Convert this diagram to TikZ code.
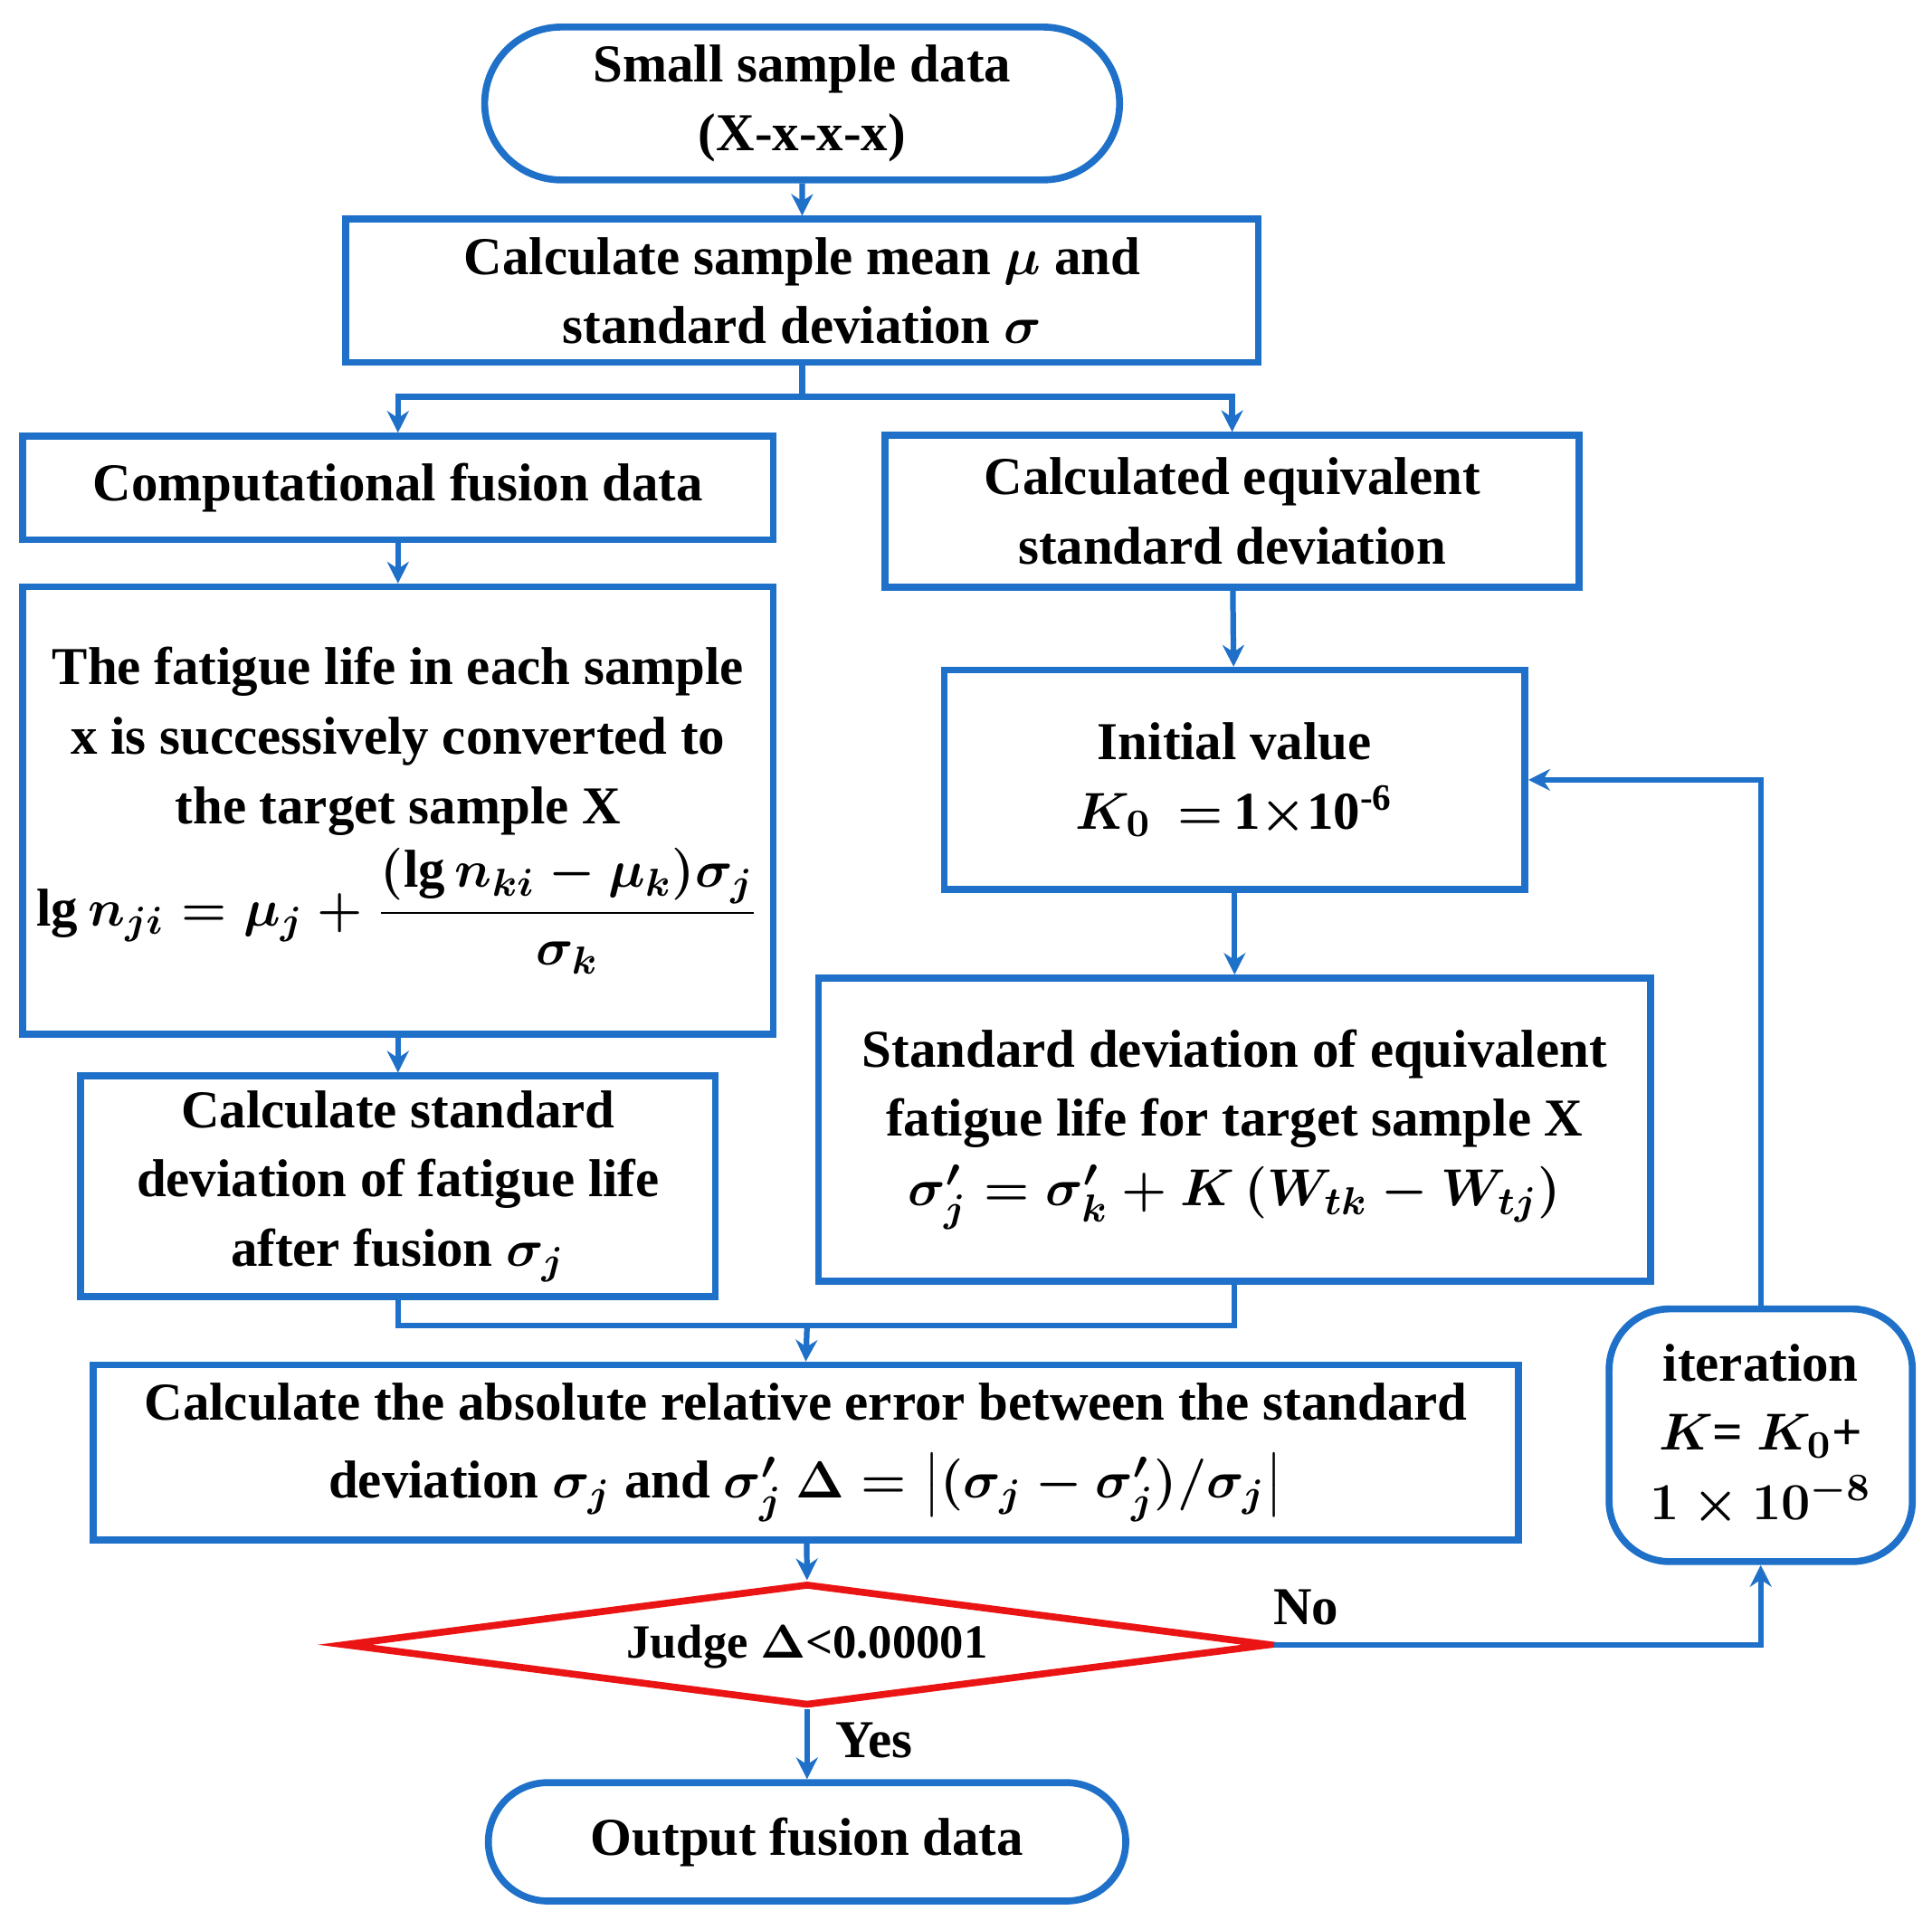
\documentclass[tikz,border=0pt]{standalone}
\usepackage{amsmath}
\usepackage{fontspec}
\setmainfont{Liberation Serif}
\usetikzlibrary{shapes.misc,shapes.geometric,arrows.meta}
\definecolor{bl}{RGB}{30,112,200}
\definecolor{rd}{RGB}{235,20,20}
\begin{document}
\begin{tikzpicture}[x=0.01cm,y=-0.01cm,
  every node/.style={font=\fontsize{12.3}{16}\selectfont\bfseries\boldmath,align=center,inner sep=0pt},
  box/.style={draw=bl,line width=1.6pt,rectangle},
  term/.style={draw=bl,line width=1.6pt,rounded rectangle},
  ar/.style={draw=bl,line width=1.3pt,-{Stealth[length=5pt,width=5pt]}},
  ln/.style={draw=bl,line width=1.3pt}]
\useasboundingbox (0,0) rectangle (1568,1558);
\node[term,minimum width=5.15cm,minimum height=1.24cm] (s) at (651,84) {Small sample data\\(X-x-x-x)};
\node[box,minimum width=7.4cm,minimum height=1.16cm] (b1) at (651,236) {Calculate sample mean $\mu$ and\\standard deviation $\sigma$};
\node[box,minimum width=6.09cm,minimum height=0.84cm] (l1) at (323,396) {Computational fusion data};
\node[box,minimum width=5.63cm,minimum height=1.23cm] (r1) at (1000,415) {Calculated equivalent\\standard deviation};
\node[box,minimum width=6.09cm,minimum height=3.63cm] (l2) at (323,658) {The fatigue life in each sample\\x is successively converted to\\the target sample X\\[2pt]$\lg n_{ji}=\mu_j+\dfrac{(\lg n_{ki}-\mu_k)\sigma_j}{\sigma_k}$};
\node[box,minimum width=4.71cm,minimum height=1.78cm] (r2) at (1002,633) {Initial value\\$K_0\,=\,$1$\times$10$^{\text{-6}}$};
\node[box,minimum width=5.15cm,minimum height=1.79cm] (l3) at (323,963) {Calculate standard\\deviation of fatigue life\\after fusion $\sigma_j$};
\node[box,minimum width=6.75cm,minimum height=2.46cm] (r3) at (1002,917) {Standard deviation of equivalent\\fatigue life for target sample X\\$\sigma_j'=\sigma_k'+K\,(W_{tk}-W_{tj})$};
\node[box,minimum width=11.56cm,minimum height=1.42cm] (e) at (654,1179) {Calculate the absolute relative error between the standard\\[2pt]deviation $\sigma_j$ and $\sigma_j'$ $\Delta=\bigl|(\sigma_j-\sigma_j')/\sigma_j\bigr|$};
\node[draw=rd,line width=1.6pt,diamond,aspect=7.6,minimum width=7.52cm,minimum height=0.99cm] (d) at (655,1335) {};
\node[font=\fontsize{11}{13}\selectfont\bfseries\boldmath] at (655,1337) {Judge $\Delta$<0.00001};
\node[term,minimum width=5.17cm,minimum height=0.96cm] (o) at (655,1495) {Output fusion data};
\node[box,rounded corners=14pt,minimum width=2.46cm,minimum height=2.05cm] (it) at (1429,1165) {iteration\\$K$= $K_0$+\\$1\times10^{-8}$};
\coordinate (m) at (655,1076);
\draw[ar] (s) -- (b1);
\draw[ar] (b1.south) -- (651,322) -| (l1.north);
\draw[ar] (651,322) -| (r1.north);
\draw[ar] (l1) -- (l2);
\draw[ar] (l2) -- (l3);
\draw[ar] (r1) -- (r2);
\draw[ar] (r2) -- (r3);
\draw[ln] (l3.south) |- (m);
\draw[ln] (r3.south) |- (m);
\draw[ar] (m) -- (e.north);
\draw[ar] (e) -- (d.north);
\draw[ar] (d.south) -- (o.north) node[pos=0.45,right=6pt] {Yes};
\draw[ar] (d.east) -| (it.south);
\node at (1060,1305) {No};
\draw[ar] (it.north) |- (r2.east);
\end{tikzpicture}
\end{document}
